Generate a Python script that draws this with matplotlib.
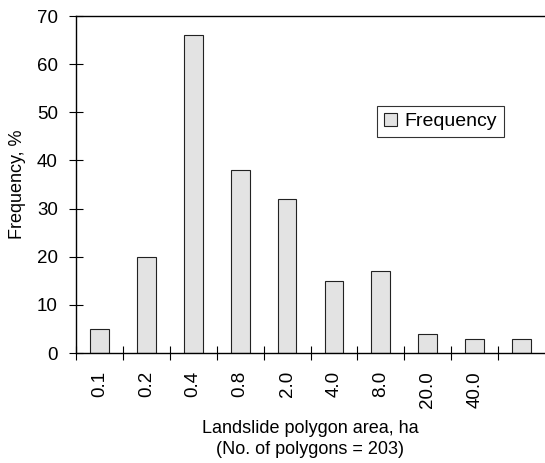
import matplotlib
matplotlib.use("Agg")
import matplotlib.pyplot as plt
import numpy as np

plt.rcParams['font.family'] = ['Liberation Sans', 'DejaVu Sans']

# Frequency of landslide polygons per area class
area_labels = ["0.1", "0.2", "0.4", "0.8", "2.0", "4.0", "8.0", "20.0", "40.0", ""]
frequency = [5, 20, 66, 38, 32, 15, 17, 4, 3, 3]

fig = plt.figure(figsize=(5.45, 4.63), dpi=100)
ax = fig.add_axes([76 / 545, 1 - 353 / 463, 469 / 545, 337 / 463])

x = np.arange(len(frequency)) + 0.5
ax.bar(x, frequency, width=0.4, color="#e3e3e3", edgecolor="#222222",
       linewidth=0.8, label="Frequency")

ax.set_xlim(0, len(frequency))
ax.set_ylim(0, 70)
ax.set_yticks(range(0, 71, 10))
ax.set_xticks(np.arange(len(frequency)))
ax.set_xticks(x, minor=True)
ax.set_xticklabels([])
ax.set_xticklabels(area_labels, minor=True, rotation=90, fontsize=13.5)
ax.tick_params(axis="x", which="minor", length=0, pad=13)
ax.tick_params(axis="x", which="major", direction="inout", length=9.5, width=0.8)
ax.tick_params(axis="y", direction="inout", length=10, width=0.8, labelsize=13.5, pad=8)

ax.spines["right"].set_visible(False)
for side in ["left", "bottom", "top"]:
    ax.spines[side].set_linewidth(1.0)

fig.text(18 / 545, 1 - 184 / 463, "Frequency, %", rotation=90,
         ha="center", va="center", fontsize=13)

fig.text(310 / 545, 1 - 439 / 463, "Landslide polygon area, ha\n(No. of polygons = 203)",
         ha="center", va="center", fontsize=13, linespacing=1.3)

leg = ax.legend(loc="upper left", bbox_to_anchor=(301 / 469, 1 - 90 / 337),
                fontsize=14, frameon=True, fancybox=False, edgecolor="black",
                handlelength=0.7, handleheight=0.7, handletextpad=0.35,
                borderpad=0.35, borderaxespad=0)
leg.get_frame().set_linewidth(0.8)

fig.savefig("out.png", dpi=100)
